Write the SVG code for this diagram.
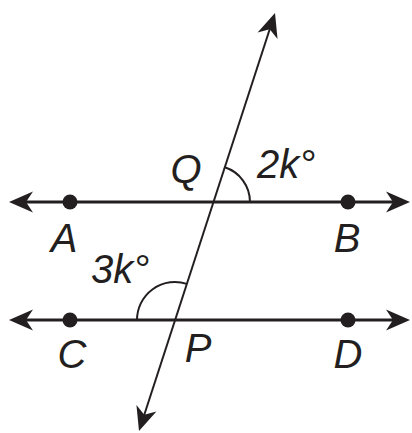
<svg xmlns="http://www.w3.org/2000/svg" width="412" height="433" viewBox="0 0 412 433">
  <style>
    .line { stroke: #231f20; stroke-width: 3.2; fill: none; }
    .trans { stroke: #231f20; stroke-width: 2; fill: none; }
    .arc { stroke: #231f20; stroke-width: 2; fill: none; }
    .dot { fill: #231f20; }
    .lbl { font-family: "Liberation Sans", Arial, sans-serif; font-style: italic; font-size: 40px; fill: #231f20; }
  </style>
  <defs>
    <marker id="arr" viewBox="-26 -12 32 24" refX="0" refY="0" markerWidth="32" markerHeight="24" markerUnits="userSpaceOnUse" orient="auto-start-reverse">
      <path d="M5,0 L-19,-10.5 L-12,0 L-19,10.5 Z" fill="#231f20"/>
    </marker>
  </defs>
  <rect width="412" height="433" fill="#ffffff"/>
  <g id="connectors">
    <line id="line-AB" class="line" x1="14" y1="202" x2="405" y2="202" marker-start="url(#arr)" marker-end="url(#arr)"/>
    <line id="line-CD" class="line" x1="14" y1="320" x2="405" y2="320" marker-start="url(#arr)" marker-end="url(#arr)"/>
    <line id="transversal" class="trans" x1="140.55" y1="426.25" x2="273.45" y2="17.75" marker-start="url(#arr)" marker-end="url(#arr)"/>
    <path id="angle-Q" class="arc" d="M224.8,167.3 A36.5,36.5 0 0 1 250,202"/>
    <path id="angle-P" class="arc" d="M137,320 A38,38 0 0 1 186.8,283.9"/>
  </g>
  <g id="node-A"><circle class="dot" cx="70" cy="202" r="7.5"/><text class="lbl" x="64" y="252" text-anchor="middle">A</text></g>
  <g id="node-B"><circle class="dot" cx="348" cy="202" r="7.5"/><text class="lbl" x="347" y="252" text-anchor="middle">B</text></g>
  <g id="node-C"><circle class="dot" cx="70" cy="320" r="7.5"/><text class="lbl" x="72" y="368" text-anchor="middle">C</text></g>
  <g id="node-D"><circle class="dot" cx="348" cy="320" r="7.5"/><text class="lbl" x="348" y="368" text-anchor="middle">D</text></g>
  <g id="node-Q"><text class="lbl" x="186" y="183" text-anchor="middle">Q</text></g>
  <g id="node-P"><text class="lbl" x="198" y="362" text-anchor="middle">P</text></g>
  <g id="label-2k"><text class="lbl" x="257" y="178">2k°</text></g>
  <g id="label-3k"><text class="lbl" x="91" y="283">3k°</text></g>
</svg>
